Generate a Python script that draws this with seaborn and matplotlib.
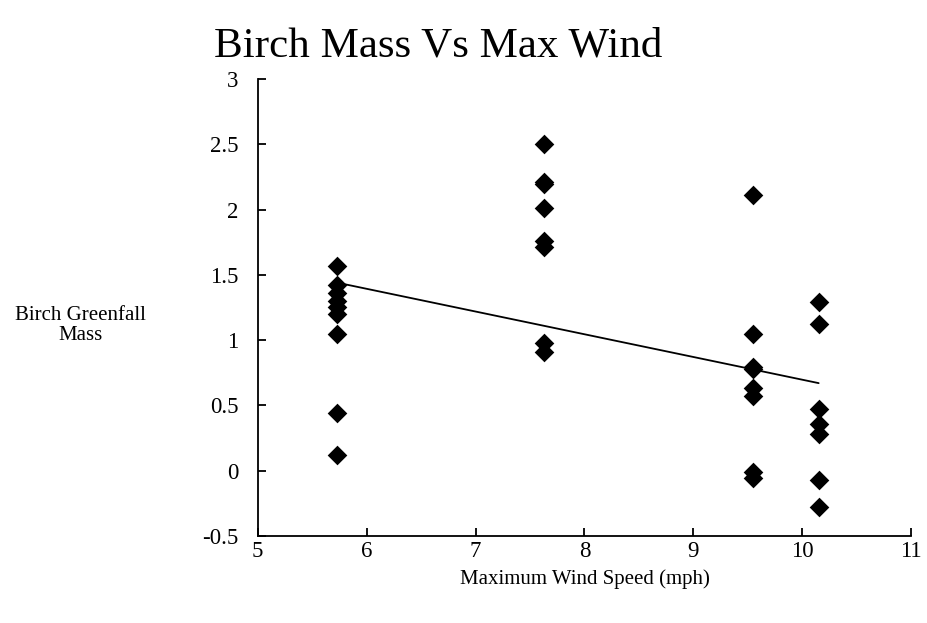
import matplotlib
matplotlib.use("Agg")
import matplotlib.pyplot as plt
import seaborn as sns
import pandas as pd

# Data
wind_5_73 = [1.57, 1.42, 1.36, 1.30, 1.25, 1.20, 1.05, 0.44, 0.12]
wind_7_63 = [2.50, 2.21, 2.20, 2.01, 1.76, 1.71, 0.98, 0.91]
wind_9_55 = [2.11, 1.05, 0.79, 0.78, 0.63, 0.57, -0.01, -0.06]
wind_10_15 = [1.29, 1.12, 0.47, 0.36, 0.28, -0.07, -0.28]
wind_levels = [5.73, 7.63, 9.55, 10.15]
trend_x = [5.73, 10.15]
trend_y = [1.44, 0.67]

xs, ys = [], []
for lvl, vals in zip(wind_levels, [wind_5_73, wind_7_63, wind_9_55, wind_10_15]):
    xs += [lvl] * len(vals)
    ys += vals
df = pd.DataFrame({"wind": xs, "mass": ys})

sns.set_style("white")
plt.rcParams['font.family'] = ['Liberation Serif', 'DejaVu Serif']
plt.rcParams['text.color'] = 'black'
plt.rcParams['axes.labelcolor'] = 'black'

fig = plt.figure(figsize=(9.27, 6.23), dpi=100)
ax = fig.add_axes([0.278, 0.140, 0.705, 0.733])

sns.scatterplot(data=df, x="wind", y="mass", marker="D", color="black",
                s=100, edgecolor="black", linewidth=0, ax=ax, zorder=3)
sns.lineplot(x=trend_x, y=trend_y, color="black", linewidth=1.3, ax=ax, zorder=2)

ax.set_xlim(5, 11)
ax.set_ylim(-0.5, 3)
ax.set_xticks([5, 6, 7, 8, 9, 10, 11])
ax.set_yticks([-0.5, 0, 0.5, 1, 1.5, 2, 2.5, 3])
ax.set_yticklabels(["-0.5", "0", "0.5", "1", "1.5", "2", "2.5", "3"])
for s in ["top", "right"]:
    ax.spines[s].set_visible(False)
for s in ["left", "bottom"]:
    ax.spines[s].set_color("black")
    ax.spines[s].set_linewidth(1.3)
ax.tick_params(axis="both", direction="in", length=6, width=1.3, colors="black",
               labelsize=16.5, left=True, bottom=True)
ax.tick_params(axis="x", pad=4)
ax.tick_params(axis="y", pad=14)

ax.set_xlabel("Maximum Wind Speed (mph)", fontsize=15, labelpad=5)
ax.set_ylabel("")
fig.text(0.087, 0.478, "Birch Greenfall\nMass", fontsize=15, ha="center", va="center",
         linespacing=1.1)
fig.text(0.473, 0.925, "Birch Mass Vs Max Wind", fontsize=31, ha="center", va="center")

fig.savefig("out.png", dpi=100)
